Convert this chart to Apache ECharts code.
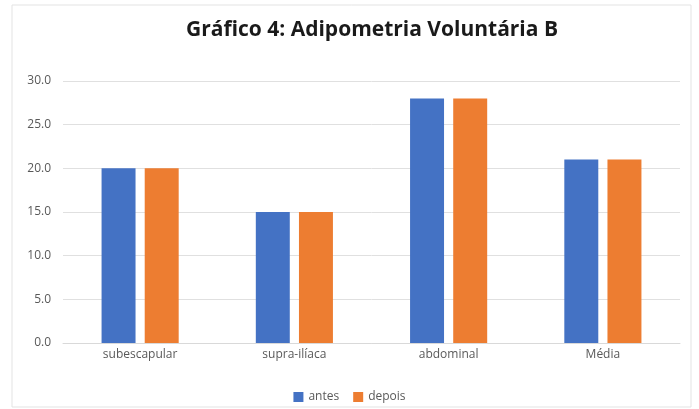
<!DOCTYPE html>
<html>
<head>
<meta charset="utf-8">
<script src="https://cdn.jsdelivr.net/npm/echarts@6/dist/echarts.min.js"></script>
<style>
html, body { margin: 0; padding: 0; background: #fff; }
#chart { width: 699px; height: 409px; }
</style>
</head>
<body>
<div id="chart"></div>
<script>
var categories = ['subescapular', 'supra-ilíaca', 'abdominal', 'Média'];
var antes = [20, 15, 28, 21];
var depois = [20, 15, 28, 21];
var yTicks = { min: 0, max: 30, interval: 5 };

var myChart = echarts.init(document.getElementById('chart'));

var option = {
    backgroundColor: '#fff',
    textStyle: { fontFamily: 'Open Sans' },
    // moldura clara do gráfico
    graphic: [{
        type: 'rect',
        shape: { x: 12, y: 5, width: 679, height: 402 },
        style: { fill: 'none', stroke: '#e3e3e3', lineWidth: 1 },
        silent: true
    }],
    title: {
        text: 'Gráfico 4: Adipometria Voluntária B',
        left: 367,
        textAlign: 'center',
        top: 15,
        textStyle: {
            fontSize: 21, fontWeight: 'bold', color: '#1a1a1a',
            fontFamily: 'Open Sans'
        }
    },
    legend: {
        bottom: 1,
        left: 'center',
        itemWidth: 10,
        itemHeight: 10,
        itemGap: 14,
        icon: 'rect',
        textStyle: { fontSize: 12, color: '#595959' },
        data: ['antes', 'depois']
    },
    grid: { left: 63, right: 19, top: 81, bottom: 66 },
    xAxis: {
        type: 'category',
        data: categories,
        axisTick: { show: false },
        axisLine: { lineStyle: { color: '#d9d9d9' } },
        axisLabel: { color: '#595959', fontSize: 12, margin: 6 }
    },
    yAxis: {
        type: 'value',
        min: yTicks.min,
        max: yTicks.max,
        interval: yTicks.interval,
        axisLine: { show: false },
        axisTick: { show: false },
        splitLine: { lineStyle: { color: '#e0e0e0' } },
        axisLabel: {
            color: '#595959', fontSize: 12, margin: 12,
            formatter: function (v) { return v.toFixed(1); }
        }
    },
    series: [
        {
            name: 'antes', type: 'bar', data: antes,
            itemStyle: { color: '#4472C4' },
            barGap: '27%', barCategoryGap: '50%'
        },
        {
            name: 'depois', type: 'bar', data: depois,
            itemStyle: { color: '#ED7D31' }
        }
    ]
};

myChart.setOption(option);
</script>
</body>
</html>
